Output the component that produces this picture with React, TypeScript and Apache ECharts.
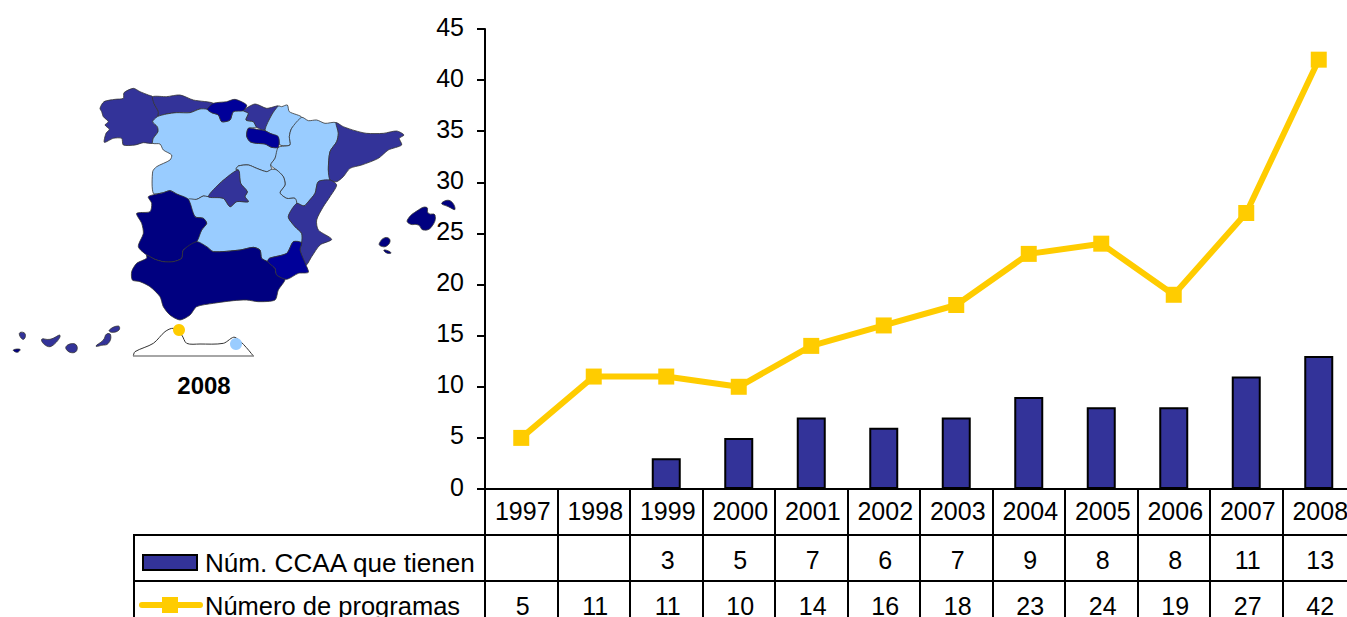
import React, { useEffect, useRef } from "react";
import * as echarts from "echarts";

const years = ["1997","1998","1999","2000","2001","2002","2003","2004","2005","2006","2007","2008"];
const ccaaValues = [null,null,3,5,7,6,7,9,8,8,11,13];
const programValues = [5,11,11,10,14,16,18,23,24,19,27,42];
const seriesBar = "Núm. CCAA que tienen";
const seriesLine = "Número de programas";
const mapYear = "2008";
const FONT = "'Liberation Sans', Arial, sans-serif";

const DARK = "#000080", MID = "#333399", BLUE = "#000099", LIGHT = "#99CCFF";
type Pts = number[][];
const regions: [string, Pts][] = [
  [MID, [[300,115],[312,95],[345,88],[370,85],[372,68],[400,55],[420,65],[445,75],[458,80],[462,100],[475,125],[473,140],[458,155],[472,170],[474,185],[460,205],[458,220],[430,218],[405,225],[370,225],[365,205],[340,205],[313,217],[318,190],[328,178],[315,165],[325,155],[310,140],[305,125]]],
  [MID, [[458,80],[500,80],[540,75],[580,90],[640,100],[620,120],[600,117],[570,128],[530,128],[500,132],[475,138],[475,125],[462,100]]],
  [LIGHT, [[472,140],[500,132],[530,128],[570,128],[600,117],[622,118],[635,128],[655,135],[665,155],[690,150],[700,125],[730,122],[745,130],[738,150],[760,155],[770,172],[745,175],[740,198],[750,215],[770,220],[795,222],[815,232],[835,232],[825,265],[812,285],[815,298],[800,305],[770,295],[745,285],[715,288],[708,298],[715,300],[665,335],[625,380],[610,378],[590,388],[565,388],[530,372],[510,362],[490,368],[460,370],[458,305],[470,290],[510,270],[515,255],[490,240],[480,222],[458,220],[460,205],[474,185],[472,170],[458,155]]],
  [BLUE, [[622,118],[640,100],[680,95],[705,88],[740,105],[730,122],[700,125],[690,150],[665,155],[655,135],[635,128]]],
  [MID, [[730,122],[765,102],[800,115],[835,108],[815,135],[795,180],[770,172],[760,155],[738,150],[745,130]]],
  [LIGHT, [[835,108],[845,110],[862,105],[868,125],[905,142],[875,175],[868,200],[870,225],[840,225],[835,205],[810,190],[795,180],[815,135]]],
  [LIGHT, [[905,142],[925,152],[950,150],[975,160],[1008,158],[1015,190],[1010,215],[990,245],[985,300],[990,330],[955,335],[945,370],[925,395],[912,408],[890,400],[885,385],[860,385],[840,368],[855,345],[850,320],[830,300],[812,285],[825,265],[835,232],[870,225],[868,200],[875,175]]],
  [BLUE, [[745,175],[770,178],[795,182],[810,190],[835,200],[835,232],[815,232],[795,222],[770,220],[750,215],[740,198]]],
  [MID, [[1008,158],[1030,170],[1065,182],[1100,190],[1150,190],[1190,183],[1212,195],[1198,205],[1205,225],[1165,240],[1135,265],[1085,285],[1050,295],[1030,320],[1010,335],[990,330],[985,300],[990,245],[1010,215],[1015,190]]],
  [LIGHT, [[565,388],[590,388],[610,378],[625,380],[670,385],[690,410],[710,395],[745,395],[735,380],[742,365],[722,340],[715,300],[708,298],[715,288],[745,285],[770,295],[800,305],[815,298],[830,300],[850,320],[855,345],[840,368],[860,385],[885,385],[890,400],[865,440],[885,470],[905,490],[905,518],[880,515],[860,550],[808,565],[803,575],[785,565],[780,540],[760,532],[720,540],[640,545],[620,530],[590,515],[605,480],[620,460],[610,445],[585,440]]],
  [MID, [[715,300],[722,340],[742,365],[735,380],[745,395],[710,395],[690,410],[670,385],[625,380],[665,335]]],
  [MID, [[955,335],[990,330],[1010,345],[990,380],[970,410],[950,450],[955,480],[995,508],[960,525],[935,560],[918,585],[900,540],[905,518],[905,490],[885,470],[865,440],[890,400],[912,408],[925,395],[945,370]]],
  [DARK, [[445,380],[490,368],[510,362],[530,372],[565,388],[585,440],[610,445],[620,460],[605,480],[590,515],[550,540],[545,565],[520,575],[490,575],[465,568],[440,555],[415,530],[430,490],[425,460],[410,430],[450,425],[455,400]]],
  [DARK, [[395,605],[410,580],[440,565],[440,555],[465,568],[490,575],[520,575],[545,565],[550,540],[590,515],[620,530],[640,545],[720,540],[760,532],[780,540],[785,565],[803,575],[825,595],[830,615],[855,628],[835,660],[825,690],[775,695],[740,690],[700,692],[640,700],[590,710],[570,735],[540,750],[510,735],[490,710],[480,680],[450,650],[420,635],[397,630]]],
  [BLUE, [[808,565],[860,550],[880,515],[905,518],[900,540],[918,585],[925,607],[895,610],[860,628],[830,615],[825,595],[803,575]]],
  [DARK, [[1222,450],[1255,420],[1280,412],[1285,430],[1305,435],[1295,470],[1270,480],[1255,465],[1230,462]]],
  [DARK, [[1325,400],[1350,392],[1365,418],[1345,410]]],
  [DARK, [[1138,520],[1155,503],[1170,510],[1160,528],[1142,528]]],
  [DARK, [[1152,540],[1170,545],[1172,550],[1158,548]]],
  [MID, [[58,790],[72,788],[76,800],[68,808]]],
  [DARK, [[40,840],[60,838],[52,847]]],
  [MID, [[125,808],[150,808],[180,796],[160,825],[140,828]]],
  [MID, [[198,830],[225,822],[230,842],[210,847]]],
  [MID, [[288,828],[310,810],[320,792],[332,795],[325,820],[305,826]]],
  [MID, [[328,780],[355,768],[357,780],[335,787]]],
];
const africa: Pts = [[400,858],[405,845],[460,820],[495,785],[520,775],[545,795],[560,820],[600,822],[670,820],[705,802],[760,858]];

const mp = (p: number[]) => [p[0] / 3, 70 + p[1] / 3];

export default function App() {
  const ref = useRef<HTMLDivElement>(null);
  useEffect(() => {
    document.body.style.margin = "0";
    const chart = echarts.init(ref.current!, null, { renderer: "svg" });
    const cell = (v: number | null) => (v === null ? "" : String(v));
    const label = { color: "#000", fontFamily: FONT, fontSize: 25, interval: 0, padding: [0, 0, 0, 3] };
    const hidden = { axisLine: { show: false }, axisTick: { show: false }, position: "bottom" };
    const line = (x1: number, y1: number, x2: number, y2: number, stroke = "#000", lineWidth = 2) => ({
      type: "line", shape: { x1, y1, x2, y2 }, style: { stroke, lineWidth },
    });
    chart.setOption({
      animation: false,
      grid: { left: 485, top: 29, width: 870, height: 460, containLabel: false },
      xAxis: [
        { type: "category", data: years, position: "bottom",
          axisLine: { lineStyle: { color: "#000", width: 2 } },
          axisTick: { show: true, length: 160, lineStyle: { color: "#000", width: 2 } },
          axisLabel: { ...label, margin: 9 } },
        { type: "category", data: ccaaValues.map(cell), ...hidden, offset: 48, axisLabel: { ...label, margin: 10 } },
        { type: "category", data: programValues.map(cell), ...hidden, offset: 94, axisLabel: { ...label, margin: 10 } },
      ],
      yAxis: {
        type: "value", min: 0, max: 45, interval: 5,
        axisLine: { show: true, lineStyle: { color: "#000", width: 2 } },
        axisTick: { show: true, length: 8, lineStyle: { color: "#000", width: 2 } },
        axisLabel: {
          margin: 21, formatter: "{t|{value}}",
          rich: { t: { color: "#000", fontFamily: FONT, fontSize: 25, padding: [0, 0, 5, 0] } },
        },
        splitLine: { show: false },
      },
      series: [
        { name: seriesBar, type: "bar", data: ccaaValues, barWidth: 29,
          itemStyle: { color: "#333399", borderColor: "#000", borderWidth: 2 } },
        { name: seriesLine, type: "line", data: programValues, symbol: "rect", symbolSize: 16,
          lineStyle: { color: "#FFCC00", width: 6 }, itemStyle: { color: "#FFCC00" }, z: 5 },
      ],
      graphic: [
        ...regions.map(([fill, pts]) => ({
          type: "polygon", shape: { points: pts.map(mp), smooth: pts.length < 10 ? 0.5 : 0.25 },
          style: { fill, stroke: "#333", lineWidth: 0.8 },
        })),
        { type: "polyline", shape: { points: africa.map(mp), smooth: 0.3 }, style: { fill: "none", stroke: "#333", lineWidth: 1 } },
        line(133, 356, 254, 356, "#888", 1.5),
        { type: "circle", shape: { cx: 179, cy: 330, r: 6 }, style: { fill: "#FFCC00" } },
        { type: "circle", shape: { cx: 236, cy: 344, r: 6 }, style: { fill: "#99CCFF" } },
        { type: "text", x: 204, y: 385, style: { text: mapYear, fill: "#000", font: `bold 24px ${FONT}`, align: "center", verticalAlign: "middle" } },
        line(133, 535, 1347, 535),
        line(133, 581, 1347, 581),
        line(134, 534, 134, 640),
        { type: "rect", shape: { x: 143, y: 555, width: 54, height: 15 }, style: { fill: "#333399", stroke: "#000", lineWidth: 2 } },
        { type: "text", x: 205, y: 563, scaleX: 1.045, style: { text: seriesBar, fill: "#000", font: `25px ${FONT}`, verticalAlign: "middle" } },
        { type: "line", shape: { x1: 142, y1: 605, x2: 200, y2: 605 }, style: { stroke: "#FFCC00", lineWidth: 6, lineCap: "round" } },
        { type: "rect", shape: { x: 162, y: 597, width: 16, height: 16 }, style: { fill: "#FFCC00" } },
        { type: "text", x: 205, y: 606, scaleX: 1.02, style: { text: seriesLine, fill: "#000", font: `25px ${FONT}`, verticalAlign: "middle" } },
      ],
    });
    return () => chart.dispose();
  }, []);
  return (
    <div style={{ width: 1347, height: 617, overflow: "hidden" }}>
      <div ref={ref} style={{ width: 1400, height: 640 }} />
    </div>
  );
}
